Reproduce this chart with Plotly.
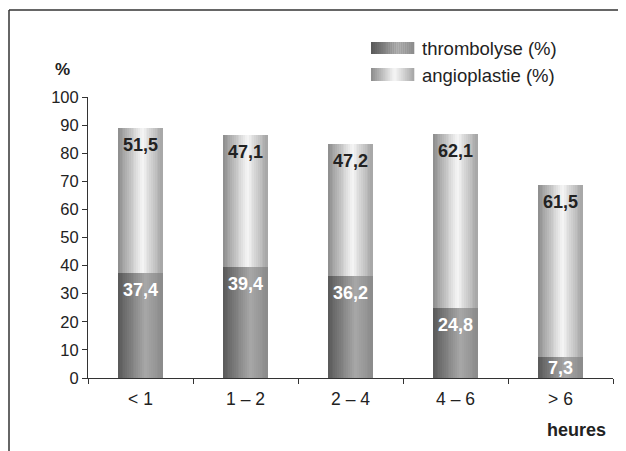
import plotly.graph_objects as go

categories = ["< 1", "1 – 2", "2 – 4", "4 – 6", "> 6"]
thrombolyse = [37.4, 39.4, 36.2, 24.8, 7.3]
angioplastie = [51.5, 47.1, 47.2, 62.1, 61.5]
series_names = ["thrombolyse (%)", "angioplastie (%)"]

FONT = "Liberation Sans, Arial"

# gradient profiles (position across bar, gray level)
thromb_stops = [(0.0, 0x58), (0.62, 0xa8), (1.0, 0x8a)]
angio_stops = [(0.0, 0x8c), (0.55, 0xf6), (1.0, 0xa4)]

def gray(stops, t):
    for (p0, g0), (p1, g1) in zip(stops[:-1], stops[1:]):
        if p0 <= t <= p1:
            g = int(round(g0 + (g1 - g0) * (t - p0) / (p1 - p0)))
            return f"rgb({g},{g},{g})"
    g = stops[-1][1]
    return f"rgb({g},{g},{g})"

BAR_W = 0.42
N = 24
sw = BAR_W / N
fig = go.Figure()
tops = [a + b for a, b in zip(thrombolyse, angioplastie)]
for k in range(N):
    t = (k + 0.5) / N
    off = -BAR_W / 2 + k * sw
    fig.add_trace(go.Bar(x=categories, y=thrombolyse, base=[0]*5, width=sw * 1.02, offset=off,
                         marker=dict(color=gray(thromb_stops, t), line=dict(width=0)),
                         showlegend=False, hoverinfo="skip"))
    fig.add_trace(go.Bar(x=categories, y=angioplastie, base=thrombolyse, width=sw * 1.02, offset=off,
                         marker=dict(color=gray(angio_stops, t), line=dict(width=0)),
                         showlegend=False, hoverinfo="skip"))

# page body has an 8px margin: work in figure coordinates
OFF = 8
L, T = 88 - OFF, 97 - OFF
W, H = 626, 451
PLOT_R, PLOT_B = 613 - OFF, 378 - OFF
R, B = W - PLOT_R, H - PLOT_B
pw, ph = PLOT_R - L, PLOT_B - T
PX_PER_UNIT = ph / 100.0
def px(x): return (x - OFF - L) / pw
def py(y): return (PLOT_B - (y - OFF)) / ph

annotations = []
for c, v in zip(categories, thrombolyse):
    shift = -min(17, v * PX_PER_UNIT / 2)
    annotations.append(dict(x=c, y=v, xref="x", yref="y", text=f"<b>{v:.1f}</b>".replace(".", ","),
                            showarrow=False, yanchor="middle", yshift=shift,
                            font=dict(family=FONT, size=18, color="white")))
for c, top, v in zip(categories, tops, angioplastie):
    annotations.append(dict(x=c, y=top, xref="x", yref="y", text=f"<b>{v:.1f}</b>".replace(".", ","),
                            showarrow=False, yanchor="middle", yshift=-17,
                            font=dict(family=FONT, size=18, color="#222222")))

shapes = []
# frame lines
shapes.append(dict(type="line", xref="paper", yref="paper", x0=px(9), x1=px(640), y0=py(10), y1=py(10),
                   line=dict(color="#333", width=1.5)))
shapes.append(dict(type="line", xref="paper", yref="paper", x0=px(9), x1=px(9), y0=py(10), y1=py(470),
                   line=dict(color="#333", width=1.5)))
# legend swatches with gradient
NS = 22
for (stops, y0, y1) in [(thromb_stops, 42, 54), (angio_stops, 68, 81)]:
    x0, x1 = 371, 414
    for k in range(NS):
        t = (k + 0.5) / NS
        a = x0 + (x1 - x0) * k / NS
        b = x0 + (x1 - x0) * (k + 1) / NS + 0.3
        shapes.append(dict(type="rect", xref="paper", yref="paper", x0=px(a), x1=px(b), y0=py(y1), y1=py(y0),
                           fillcolor=gray(stops, t), line=dict(width=0), layer="above"))

annotations += [
    dict(text=series_names[0], xref="paper", yref="paper", x=px(420), y=py(48), xanchor="left", yanchor="middle",
         showarrow=False, font=dict(family=FONT, size=18.5, color="#222")),
    dict(text=series_names[1], xref="paper", yref="paper", x=px(420), y=py(75), xanchor="left", yanchor="middle",
         showarrow=False, font=dict(family=FONT, size=18.5, color="#222")),
    dict(text="<b>%</b>", xref="paper", yref="paper", x=px(62), y=py(70), xanchor="center", yanchor="middle",
         showarrow=False, font=dict(family=FONT, size=17, color="#222")),
    dict(text="<b>heures</b>", xref="paper", yref="paper", x=px(608), y=py(430), xanchor="right", yanchor="middle",
         showarrow=False, font=dict(family=FONT, size=18, color="#222")),
]

fig.update_layout(
    width=W, height=H, margin=dict(l=L, r=R, t=T, b=B, autoexpand=False),
    paper_bgcolor="white", plot_bgcolor="white",
    barmode="overlay", bargap=0, separators=", ",
    showlegend=False, shapes=shapes, annotations=annotations,
    font=dict(family=FONT, size=16, color="#222"),
)
fig.update_xaxes(type="category", showline=True, linecolor="#333", linewidth=1, ticks="outside",
                 tickson="boundaries", ticklen=5, tickcolor="#333", showgrid=False, zeroline=False,
                 range=[-0.5, 4.5], tickfont=dict(size=17.5, color="#222"), ticklabelstandoff=5)
fig.update_yaxes(range=[0, 100], dtick=10, showline=True, linecolor="#333", linewidth=1, ticks="outside",
                 ticklen=5, tickcolor="#333", showgrid=False, zeroline=False, tickfont=dict(size=16.5, color="#222"))

fig.write_html("out.html")
